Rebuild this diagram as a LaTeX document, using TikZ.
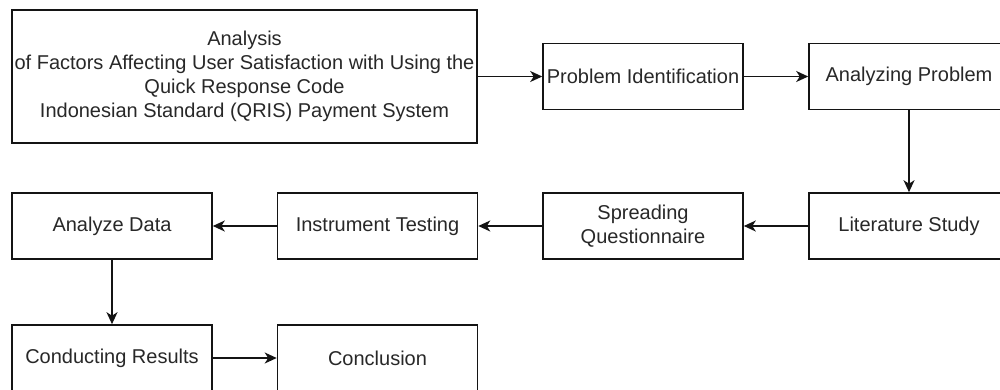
\documentclass[tikz,border=0pt]{standalone}
\usepackage{fontspec}
\setmainfont{Liberation Sans}
\usetikzlibrary{arrows.meta}
\definecolor{txt}{RGB}{40,40,40}
\definecolor{ln}{RGB}{20,20,20}
\begin{document}
\begin{tikzpicture}[x=1pt,y=-1pt,
  box/.style={draw=ln,line width=1.6pt,rectangle,inner sep=0pt,align=center,
    text=txt,font=\fontsize{20}{24}\selectfont,minimum width=200pt,minimum height=66pt},
  arr/.style={draw=ln,line width=1.6pt,-{Stealth[length=12pt,width=11pt,inset=3.5pt]}}]
\clip (0,0) rectangle (1000,389);
\fill[white] (0,0) rectangle (1000,389);
\node[box,minimum width=465pt,minimum height=133pt] (big) at (244.5,76.5)
  {Analysis\\of Factors Affecting User Satisfaction with Using the\\Quick Response Code\\Indonesian Standard (QRIS) Payment System};
\node[box] (pi) at (643,76.5) {Problem Identification};
\node[box] (ap) at (909,76.5) {Analyzing Problem};
\node[box] (lit) at (909,226) {Literature Study};
\node[box] (sq) at (643,226) {Spreading\\Questionnaire};
\node[box] (it) at (377.5,226) {Instrument Testing};
\node[box] (ad) at (112,226) {Analyze Data};
\node[box] (cr) at (112,358) {Conducting Results};
\node[box] (con) at (377.5,358) {Conclusion};
\draw[arr] (big) -- (pi);
\draw[arr] (pi) -- (ap);
\draw[arr] (ap) -- (lit);
\draw[arr] (lit) -- (sq);
\draw[arr] (sq) -- (it);
\draw[arr] (it) -- (ad);
\draw[arr] (ad) -- (cr);
\draw[arr] (cr) -- (con);
\end{tikzpicture}
\end{document}
